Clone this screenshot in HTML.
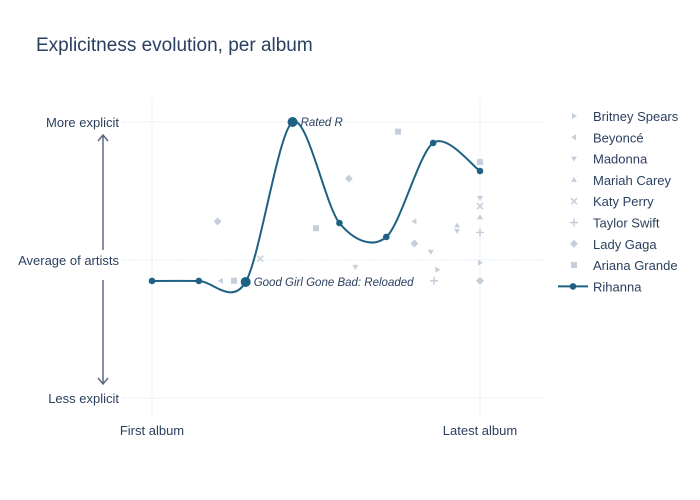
<!DOCTYPE html>
<html><head><meta charset="utf-8"><style>
body{margin:0;background:#fff}
svg{display:block;font-family:"Liberation Sans",sans-serif}
</style></head><body>
<svg id="c" width="700" height="500">
<text x="36" y="51" font-size="19" fill="#2a3f5f">Explicitness evolution, per album</text>
<g id="grid"></g>
<g id="axes"></g>
<g id="marks"></g>
<g id="legend"></g>
</svg>
<script>
const artists = ["Britney Spears","Beyoncé","Madonna","Mariah Carey","Katy Perry","Taylor Swift","Lady Gaga","Ariana Grande"];
const symbols = ["tri-right","tri-left","tri-down","tri-up","x","cross","diamond","square"];
const artistX = [[0.87,1],[0.8,0.21],[0.62,0.85,0.93,1],[0.93,1],[0.33,1],[0.86,1],[0.2,0.6,0.8,1],[0.25,0.5,0.75,1]];
const artistY = [[-0.07,-0.02],[0.28,-0.15],[-0.05,0.06,0.21,0.45],[0.25,0.31],[0.01,0.39],[-0.15,0.2],[0.28,0.59,0.12,-0.15],[-0.15,0.23,0.93,0.71]];
const rihannaY = [-0.152,-0.152,-0.159,1.0,0.268,0.167,0.848,0.645];
const labeled = {2:"Good Girl Gone Bad: Reloaded",3:"Rated R"};
const yTicks = [1,0,-1];
const yTickLabels = ["More explicit","Average of artists","Less explicit"];
const xTicks = [0,1];
const xTickLabels = ["First album","Latest album"];

const NS="http://www.w3.org/2000/svg";
const X=f=>152+f*328, Y=v=>260-v*138;
function el(t,a,p){const e=document.createElementNS(NS,t);for(const k in a)e.setAttribute(k,a[k]);document.getElementById(p).appendChild(e);return e;}
const grid="grid",axes="axes",marks="marks",leg="legend";
yTicks.forEach((v,i)=>{
 const l=el("line",{x1:122,x2:544,y1:Y(v),y2:Y(v),stroke:"#e3eef6","stroke-dasharray":"2,1"},grid);
 
 
 const t=el("text",{x:119,y:Y(v)+5,"text-anchor":"end","font-size":"13",fill:"#2a3f5f"},axes);t.textContent=yTickLabels[i];
 
 
});
xTicks.forEach((f,i)=>{
 const l=el("line",{x1:X(f),x2:X(f),y1:100,y2:418,stroke:"#e3eef6","stroke-dasharray":"2,1"},grid);
 
 
 const t=el("text",{x:X(f),y:435,"text-anchor":"middle","font-size":"13",fill:"#2a3f5f"},axes);t.textContent=xTickLabels[i];
 
 
});
[[250,135],[280,384]].forEach(([a,b])=>{
 const g=el("g",{stroke:"#5a6a7e","stroke-width":"1.5",fill:"none"},axes);
 
 
 const d=b<a?-1:1;
 g.innerHTML=`<line x1="103" x2="103" y1="${a}" y2="${b}"/><polyline points="98,${b-d*6} 103,${b} 108,${b-d*6}"/>`;
});
function sym(p,cx,cy,s,col){
 let e;
 if(s=="square")e=el("rect",{x:cx-3,y:cy-3,width:6,height:6,fill:col},p);
 else if(s=="diamond")e=el("polygon",{points:`${cx},${cy-4} ${cx+4},${cy} ${cx},${cy+4} ${cx-4},${cy}`,fill:col},p);
 else if(s=="x")e=el("path",{d:`M${cx-3},${cy-3}L${cx+3},${cy+3}M${cx+3},${cy-3}L${cx-3},${cy+3}`,stroke:col,"stroke-width":1.5},p);
 else if(s=="cross")e=el("path",{d:`M${cx-4},${cy}L${cx+4},${cy}M${cx},${cy-4}L${cx},${cy+4}`,stroke:col,"stroke-width":1.5},p);
 else{const pts={"tri-right":[[-2,-3],[3,0],[-2,3]],"tri-left":[[2,-3],[-3,0],[2,3]],"tri-down":[[-3,-2],[3,-2],[0,3]],"tri-up":[[-3,2],[3,2],[0,-3]]}[s];
  e=el("polygon",{points:pts.map(q=>(cx+q[0])+","+(cy+q[1])).join(" "),fill:col},p);}
 return e;
}
const faint="#c5cfdb";
artists.forEach((a,i)=>{
 artistX[i].forEach((f,j)=>{
  const m=sym(marks,X(f),Y(artistY[i][j]),symbols[i],faint);
  
  
 });
 const ly=116+i*21.3;
 const lm=sym(leg,574,ly,symbols[i],faint);
 
 
 const t=el("text",{x:593,y:ly+5,"font-size":"13",fill:"#2a3f5f"},leg);t.textContent=a;
 
 
});
const pts=rihannaY.map((v,i)=>[X(i/(rihannaY.length-1)),Y(v)]);
let d=`M${pts[0][0]},${pts[0][1]}`;
const k=0.15;
for(let i=0;i<pts.length-1;i++){
 const p0=pts[Math.max(0,i-1)],p1=pts[i],p2=pts[i+1],p3=pts[Math.min(pts.length-1,i+2)];
 d+=`C${p1[0]+(p2[0]-p0[0])*k},${p1[1]+(p2[1]-p0[1])*k} ${p2[0]-(p3[0]-p1[0])*k},${p2[1]-(p3[1]-p1[1])*k} ${p2[0]},${p2[1]}`;
}
const line=el("path",{d:d,fill:"none",stroke:"#1f6182","stroke-width":2},marks);


pts.forEach((p,i)=>{
 const c=el("circle",{cx:p[0],cy:p[1],r:labeled[i]?5:3.3,fill:"#1f6182"},marks);
 
 
 if(labeled[i]){const t=el("text",{x:p[0]+8,y:p[1]+4,"font-size":"11.5","font-style":"italic",fill:"#2a3f5f"},marks);t.textContent=labeled[i];
  
  }
});
const ly=116+8*21.3;
const ll=el("line",{x1:558,x2:588,y1:ly,y2:ly,stroke:"#1f6182","stroke-width":2},leg);


const lc=el("circle",{cx:573,cy:ly,r:3.3,fill:"#1f6182"},leg);


const lt=el("text",{x:593,y:ly+5,"font-size":"13",fill:"#2a3f5f"},leg);lt.textContent="Rihanna";


</script>
</body></html>
